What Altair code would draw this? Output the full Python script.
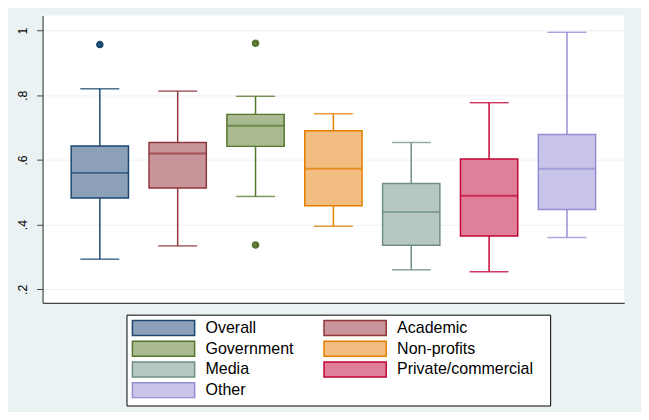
import altair as alt
import pandas as pd

groups = ["Overall", "Academic", "Government", "Non-profits", "Media",
          "Private/commercial", "Other"]
lower = [0.293, 0.334, 0.487, 0.395, 0.260, 0.254, 0.360]
q1 = [0.482, 0.513, 0.642, 0.458, 0.336, 0.365, 0.447]
median = [0.560, 0.620, 0.706, 0.573, 0.439, 0.489, 0.573]
q3 = [0.643, 0.654, 0.741, 0.690, 0.527, 0.603, 0.679]
upper = [0.820, 0.813, 0.797, 0.743, 0.654, 0.777, 0.995]

out_groups = ["Overall", "Government", "Government"]
out_values = [0.957, 0.961, 0.337]

stroke_colors = ["#1a476f", "#90353b", "#55752f", "#e37e00", "#6e8e84",
                 "#c10534", "#938dd2"]
fill_colors = ["#8ca1b8", "#c8969a", "#a9ba91", "#f2bd80", "#b7c8c2",
               "#e07f99", "#c9c5e9"]

y_ticks = [0.2, 0.4, 0.6, 0.8, 1.0]

df = pd.DataFrame({"group": groups, "lower": lower, "q1": q1, "median": median,
                   "q3": q3, "upper": upper})
df_out = pd.DataFrame({"group": out_groups, "value": out_values})

xenc = alt.X("group:N", sort=groups,
             scale=alt.Scale(domain=groups, paddingInner=0.257, paddingOuter=0.364),
             axis=alt.Axis(labels=False, ticks=False, title=None, grid=False,
                           domain=True, domainColor="#444444", domainWidth=1.2))
yscale = alt.Scale(domain=[0.158, 1.047], nice=False, zero=False)
yaxis = alt.Axis(values=y_ticks, title=None, labelAngle=270, labelAlign="center",
                 labelBaseline="alphabetic", labelPadding=10, tickSize=6,
                 labelExpr="replace(format(datum.value, '.1~f'), '0.', '.')",
                 labelFont="Liberation Sans", labelFontSize=12.5, labelColor="#000000",
                 grid=True, gridColor="#eaf2f3", gridWidth=1,
                 domainColor="#444444", tickColor="#444444", domainWidth=1.2)

stroke_scale = alt.Scale(domain=groups, range=stroke_colors)
fill_scale = alt.Scale(domain=groups, range=fill_colors)

legend = alt.Legend(
    title=" ", titleOrient="right", titleFontSize=1, titlePadding=12,
    orient="none", legendX=85, legendY=303, columns=2,
    direction="horizontal",
    symbolType="M-1,-1L7.4,-1L7.4,1L-1,1Z", symbolSize=225,
    symbolStrokeWidth=1.5, symbolOpacity=1,
    labelFont="Liberation Sans", labelFontSize=16.2, labelColor="#000000",
    labelOffset=58, rowPadding=0, columnPadding=27, padding=5,
    strokeColor="#000000", fillColor="#ffffff", labelLimit=400,
)

base = alt.Chart(df)
sk = alt.Stroke("group:N", scale=stroke_scale)

box = base.mark_bar(strokeWidth=1.5, width=58, opacity=1).encode(
    x=xenc, y=alt.Y("q1:Q", scale=yscale, axis=yaxis), y2="q3:Q",
    fill=alt.Fill("group:N", scale=fill_scale, legend=legend),
    stroke=alt.Stroke("group:N", scale=stroke_scale, legend=legend),
)
whisker_lo = base.mark_rule(strokeWidth=1.5).encode(
    x=xenc, y=alt.Y("lower:Q", scale=yscale), y2="q1:Q", stroke=sk,
)
whisker_hi = base.mark_rule(strokeWidth=1.5).encode(
    x=xenc, y=alt.Y("q3:Q", scale=yscale), y2="upper:Q", stroke=sk,
)
cap_lo = base.mark_tick(size=39, thickness=0.5, strokeWidth=1, filled=False,
                        orient="horizontal").encode(
    x=xenc, y=alt.Y("lower:Q", scale=yscale), stroke=sk,
)
cap_hi = base.mark_tick(size=39, thickness=0.5, strokeWidth=1, filled=False,
                        orient="horizontal").encode(
    x=xenc, y=alt.Y("upper:Q", scale=yscale), stroke=sk,
)
med = base.mark_tick(size=57, thickness=0.8, strokeWidth=1.2, filled=False,
                     orient="horizontal").encode(
    x=xenc, y=alt.Y("median:Q", scale=yscale), stroke=sk,
)
pts = alt.Chart(df_out).mark_point(shape="circle", size=12, strokeWidth=4.2,
                                   filled=False, opacity=1).encode(
    x=xenc, y=alt.Y("value:Q", scale=yscale), stroke=sk,
)

chart = alt.layer(box, whisker_lo, whisker_hi, cap_lo, cap_hi, med, pts).properties(
    width=589, height=291,
    autosize=alt.AutoSizeParams(type="none"),
    padding={"left": 35, "top": 5, "right": 17, "bottom": 108},
    background="#eaf2f3",
).configure_view(fill="#ffffff", stroke=None)

chart.save("out.html", embed_options={"renderer": "svg", "actions": False})
